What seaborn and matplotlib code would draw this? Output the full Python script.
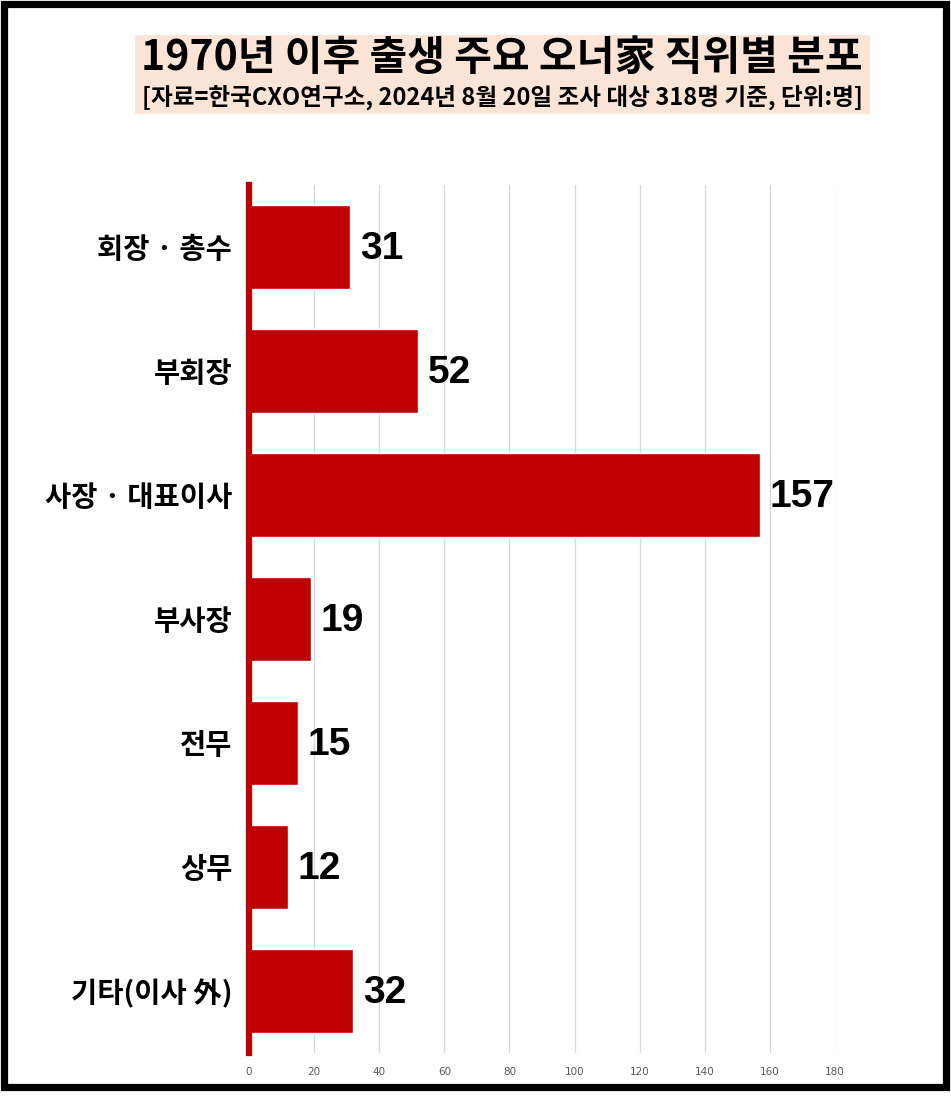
import matplotlib
matplotlib.use("Agg")
import matplotlib.pyplot as plt
import seaborn as sns
import pandas as pd
from matplotlib.patches import Rectangle

# data
positions = ["회장 · 총수", "부회장", "사장 · 대표이사", "부사장", "전무", "상무", "기타(이사 外)"]
counts = [31, 52, 157, 19, 15, 12, 32]
x_ticks = [0, 20, 40, 60, 80, 100, 120, 140, 160, 180]

title = "1970년 이후 출생 주요 오너家 직위별 분포"
subtitle = "[자료=한국CXO연구소, 2024년 8월 20일 조사 대상 318명 기준, 단위:명]"

df = pd.DataFrame({"position": positions, "count": counts})

sns.set_theme(style="white")
plt.rcParams["font.family"] = ["Noto Sans CJK KR", "DejaVu Sans"]

W, H = 951, 1097
fig = plt.figure(figsize=(W / 100, H / 100), dpi=100)
fig.patch.set_facecolor("white")

# outer black frame
fig.patches.append(Rectangle((3.5 / W, 1 - 1086.5 / H), 942 / W, 1083 / H,
                             transform=fig.transFigure, fill=False,
                             edgecolor="black", linewidth=5.2))

# title box
fig.patches.append(Rectangle((135 / W, 1 - 114 / H), 735 / W, 79 / H,
                             transform=fig.transFigure, facecolor="#FCE4D6",
                             edgecolor="none", zorder=0))
fig.text(502 / W, 1 - 58 / H, title, ha="center", va="center",
         fontsize=29.5, fontweight="bold", color="black")
fig.text(502 / W, 1 - 97 / H, subtitle, ha="center", va="center",
         fontsize=17, fontweight="bold", color="black")

ax = fig.add_axes([249 / W, 1 - 1053 / H, (835 - 249) / W, (1053 - 185) / H])
sns.barplot(data=df, x="count", y="position", orient="h", color="#C00000",
            width=0.67, saturation=1, ax=ax, zorder=3)

ax.set_xlim(0, 180)
ax.set_xticks(x_ticks)
ax.set_xticklabels([str(t) for t in x_ticks], fontsize=7.5, color="#595959",
                   family=["DejaVu Sans"])
ax.tick_params(axis="x", length=0, pad=10)
ax.tick_params(axis="y", length=0, pad=12)
for lbl in ax.get_yticklabels():
    lbl.set_fontsize(20.5)
    lbl.set_fontweight("bold")
    lbl.set_color("black")
ax.set_xlabel("")
ax.set_ylabel("")

ax.xaxis.grid(True, color="#D9D9D9", linewidth=1)
ax.set_axisbelow(True)
for side in ["top", "right", "bottom"]:
    ax.spines[side].set_visible(False)
ax.spines["left"].set_color("#C00000")
ax.spines["left"].set_linewidth(4.5)
ax.spines["left"].set_zorder(5)

for i, v in enumerate(counts):
    ax.text(v + 3, i + 0.02, str(v), ha="left", va="center", fontsize=28,
            fontweight="bold", color="black",
            family=["Liberation Sans", "DejaVu Sans"])

fig.savefig("out.png", dpi=100)
plt.close(fig)
